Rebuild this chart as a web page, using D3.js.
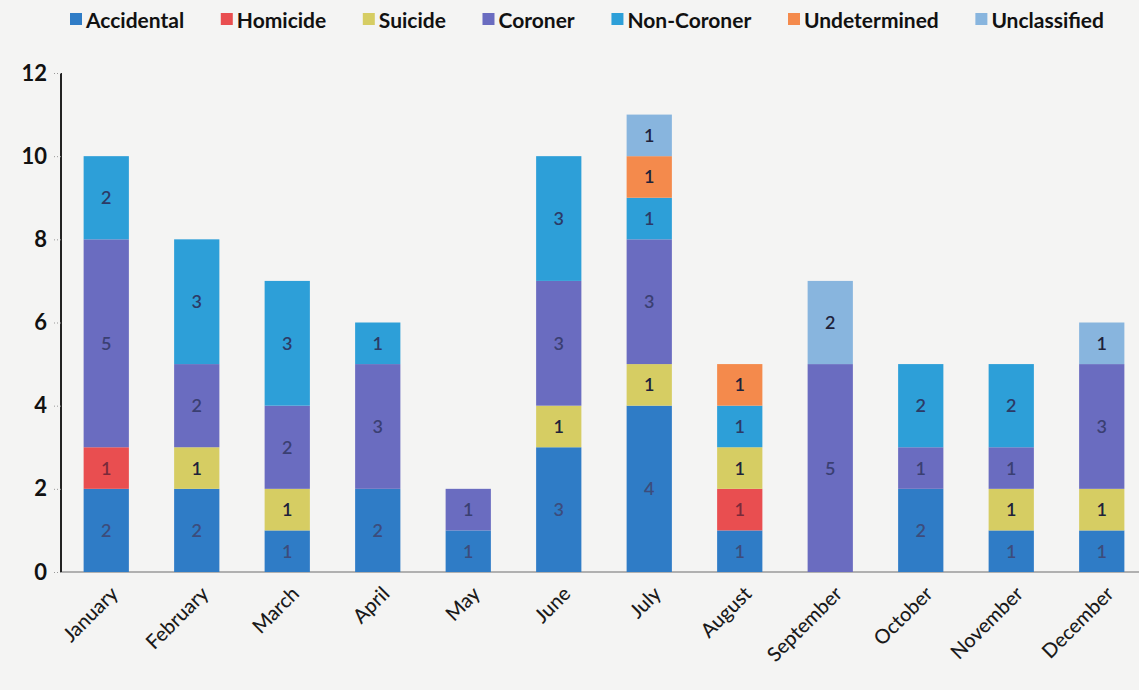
<!DOCTYPE html>
<html>
<head>
<meta charset="utf-8">
<script src="https://cdn.jsdelivr.net/npm/d3@7"></script>
<style>
  html, body { margin: 0; padding: 0; background: #f4f4f3; }
  svg { display: block; }
  text { font-family: Lato, "Open Sans", "Liberation Sans", sans-serif; }
</style>
</head>
<body>
<svg id="chart" width="1139" height="690"></svg>
<script>
// Monthly case counts by classification
const months = ["January", "February", "March", "April", "May", "June",
                "July", "August", "September", "October", "November", "December"];
const seriesNames = ["Accidental", "Homicide", "Suicide", "Coroner",
                     "Non-Coroner", "Undetermined", "Unclassified"];
const accidental   = [2, 2, 1, 2, 1, 3, 4, 1, 0, 2, 1, 1];
const homicide     = [1, 0, 0, 0, 0, 0, 0, 1, 0, 0, 0, 0];
const suicide      = [0, 1, 1, 0, 0, 1, 1, 1, 0, 0, 1, 1];
const coroner      = [5, 2, 2, 3, 1, 3, 3, 0, 5, 1, 1, 3];
const nonCoroner   = [2, 3, 3, 1, 0, 3, 1, 1, 0, 2, 2, 0];
const undetermined = [0, 0, 0, 0, 0, 0, 1, 1, 0, 0, 0, 0];
const unclassified = [0, 0, 0, 0, 0, 0, 1, 0, 2, 0, 0, 1];
const yTicks = [0, 2, 4, 6, 8, 10, 12];

const seriesValues = [accidental, homicide, suicide, coroner, nonCoroner, undetermined, unclassified];
const colors = ["#2f7cc6", "#e94e50", "#d6cd63", "#6a6cc0", "#2d9fd8", "#f48a4c", "#88b5de"];
const labelColors = ["#3c4c7c", "#7a2a3a", "#20223a", "#3a3f72", "#2c3a66", "#20223a", "#20223a"];

const rows = months.map((m, i) => {
  const r = { month: m };
  seriesNames.forEach((s, k) => { r[s] = seriesValues[k][i]; });
  return r;
});
const stacked = d3.stack().keys(seriesNames)(rows);

const svg = d3.select("#chart");
const x = d3.scaleBand().domain(months).range([61, 61 + 12 * 90.5]).paddingInner(0.5).paddingOuter(0.25);
const y = d3.scaleLinear().domain([0, 12]).range([572, 73]);

// x baseline
svg.append("line")
  .attr("x1", 61).attr("x2", 1139)
  .attr("y1", y(0)).attr("y2", y(0))
  .attr("stroke", "#9a9a9a").attr("stroke-width", 1.5);

// bars
const groups = svg.append("g").selectAll("g")
  .data(stacked).join("g")
  .attr("fill", (d, i) => colors[i]);

groups.selectAll("rect")
  .data(d => d.filter(p => p[1] - p[0] > 0))
  .join("rect")
  .attr("x", p => x(p.data.month))
  .attr("y", p => y(p[1]))
  .attr("width", x.bandwidth())
  .attr("height", p => y(p[0]) - y(p[1]));

// value labels in each segment
groups.each(function(d, i) {
  d3.select(this).selectAll("text")
    .data(d.filter(p => p[1] - p[0] > 0))
    .join("text")
    .attr("x", p => x(p.data.month) + x.bandwidth() / 2)
    .attr("y", p => y((p[0] + p[1]) / 2))
    .attr("dy", "0.36em")
    .attr("text-anchor", "middle")
    .attr("font-size", 18)
    .attr("font-weight", 600)
    .attr("fill", labelColors[i])
    .text(p => p[1] - p[0]);
});

// y axis
const yAxis = d3.axisLeft(y).tickValues(yTicks).tickSize(8).tickPadding(6);
const gy = svg.append("g").attr("transform", "translate(61,0)").call(yAxis);
gy.select(".domain").attr("stroke", "#222").attr("stroke-width", 2).attr("d", `M0,${y(12)}V${y(0)}`);
gy.selectAll(".tick line").attr("stroke", "#999").attr("stroke-dasharray", "1,2");
gy.selectAll(".tick text")
  .attr("font-size", 22).attr("font-weight", 700).attr("fill", "#111")
  .attr("font-family", "Lato, 'Open Sans', sans-serif");

// x axis labels, rotated
const gx = svg.append("g").attr("transform", `translate(0,${y(0)})`)
  .call(d3.axisBottom(x).tickSize(0).tickPadding(0));
gx.select(".domain").remove();
gx.selectAll(".tick text")
  .attr("font-size", 20).attr("font-weight", 500).attr("fill", "#1a1a1a")
  .attr("font-family", "Lato, 'Open Sans', sans-serif")
  .attr("text-anchor", "end")
  .attr("transform", "translate(6,16) rotate(-45)")
  .attr("dy", "0.5em");

// legend
const legend = svg.append("g");
const items = legend.selectAll("g").data(seriesNames).join("g");
items.append("rect").attr("width", 12).attr("height", 12).attr("y", 13)
  .attr("fill", (d, i) => colors[i]);
items.append("text").attr("x", 16).attr("y", 28)
  .attr("font-size", 21).attr("font-weight", 700).attr("fill", "#111")
  .text(d => d);
const widths = [];
items.each(function() { widths.push(this.getBBox().width); });
const start = 70, end = 1104;
const gap = (end - start - d3.sum(widths)) / (widths.length - 1);
let cx = start;
items.attr("transform", (d, i) => { const t = `translate(${cx},0)`; cx += widths[i] + gap; return t; });
</script>
</body>
</html>
